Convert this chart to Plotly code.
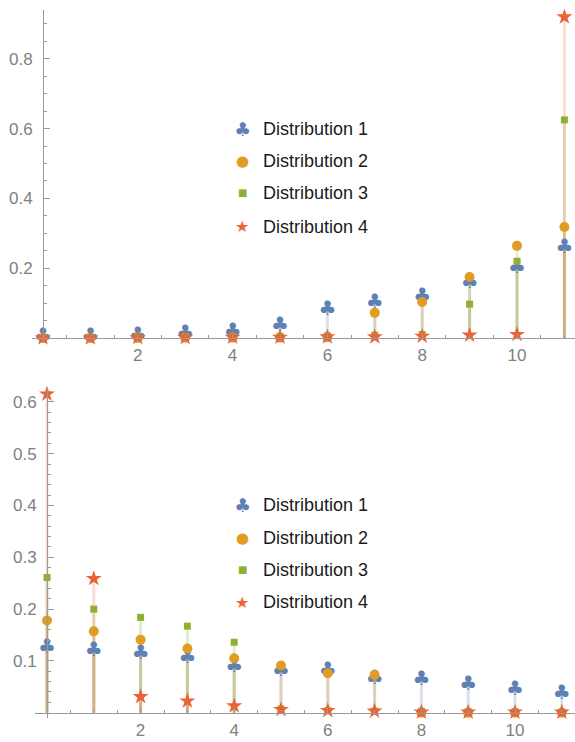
import plotly.graph_objects as go

x_vals = list(range(12))
names = ["Distribution 1", "Distribution 2", "Distribution 3", "Distribution 4"]
colors = ["#5E81B5", "#E19C24", "#8FB032", "#EB6235"]
rgba = ["rgba(94,129,181,0.24)", "rgba(225,156,36,0.24)", "rgba(143,176,50,0.24)", "rgba(235,98,53,0.22)"]

# top panel values
top_d1 = [0.003, 0.004, 0.005, 0.012, 0.017, 0.034, 0.080, 0.100, 0.118, 0.157, 0.200, 0.258]
top_d2 = [0.000, 0.000, 0.000, 0.001, 0.001, 0.001, 0.002, 0.072, 0.103, 0.175, 0.264, 0.318]
top_d3 = [0.001, 0.001, 0.002, 0.003, 0.004, 0.005, 0.006, 0.008, 0.010, 0.097, 0.220, 0.625]
top_d4 = [0.000, 0.000, 0.001, 0.001, 0.002, 0.002, 0.003, 0.003, 0.005, 0.008, 0.010, 0.920]

# bottom panel values
bot_d1 = [0.124, 0.119, 0.113, 0.105, 0.089, 0.081, 0.080, 0.066, 0.063, 0.053, 0.044, 0.036]
bot_d2 = [0.178, 0.157, 0.141, 0.124, 0.105, 0.091, 0.076, 0.073, 0.000, 0.000, 0.000, 0.000]
bot_d3 = [0.261, 0.200, 0.184, 0.167, 0.136, 0.007, 0.004, 0.003, 0.003, 0.002, 0.002, 0.001]
bot_d4 = [0.615, 0.259, 0.031, 0.0226, 0.013, 0.006, 0.004, 0.003, 0.001, 0.001, 0.001, 0.001]

top_series = [top_d1, top_d2, top_d3, top_d4]
bot_series = [bot_d1, bot_d2, bot_d3, bot_d4]

x_ticks = [2, 4, 6, 8, 10]
top_y_ticks = [0.2, 0.4, 0.6, 0.8]
bot_y_ticks = [0.1, 0.2, 0.3, 0.4, 0.5, 0.6]

fig = go.Figure()

def add_panel(series, xa, ya):
    # stems
    for i, vals in enumerate(series):
        sx, sy = [], []
        for xv, v in zip(x_vals, vals):
            sx += [xv, xv, None]
            sy += [0, v, None]
        fig.add_trace(go.Scatter(x=sx, y=sy, mode="lines", line=dict(color=rgba[i], width=3),
                                 xaxis=xa, yaxis=ya, showlegend=False, hoverinfo="skip",
                                 cliponaxis=False))
    # points
    for i, vals in enumerate(series):
        if i == 0:
            fig.add_trace(go.Scatter(x=x_vals, y=vals, mode="text", text=["♣"] * len(vals),
                                     textposition="middle center", cliponaxis=False,
                                     textfont=dict(color=colors[0], size=20, family="DejaVu Sans"),
                                     xaxis=xa, yaxis=ya, showlegend=False, name=names[0]))
        else:
            sym = ["circle", "square", "star"][i - 1]
            size = [10, 7, 12][i - 1]
            fig.add_trace(go.Scatter(x=x_vals, y=vals, mode="markers", cliponaxis=False,
                                     marker=dict(symbol=sym, size=size, color=colors[i], line=dict(width=0)),
                                     xaxis=xa, yaxis=ya, showlegend=False, name=names[i]))

add_panel(top_series, "x", "y")
add_panel(bot_series, "x2", "y2")

W, H = 575, 742
axis_col = "#9a9a9a"
tick_font = dict(family="Liberation Sans, Arial", size=17, color="#808080")

def xaxis_cfg(left_px, x0px, ppu, axis_ypx):
    return dict(domain=[left_px / W, 1], range=[(left_px - x0px) / ppu, (W - x0px) / ppu],
                anchor="free", position=1 - axis_ypx / H, automargin=False,
                showline=True, linecolor=axis_col, linewidth=1,
                showgrid=False, zeroline=False,
                tickmode="array", tickvals=x_ticks, ticktext=[str(t) for t in x_ticks],
                ticks="inside", ticklen=5, tickcolor=axis_col,
                minor=dict(tickmode="array", tickvals=[k * 0.5 for k in range(1, 23)],
                           ticks="inside", ticklen=3, tickcolor=axis_col, showgrid=False),
                tickfont=tick_font, ticklabelstandoff=2)

def yaxis_cfg(ytop_px, ybot_px, y0px, ppu, axis_xpx, ticks, minor_step, nminor):
    return dict(domain=[1 - ybot_px / H, 1 - ytop_px / H],
                range=[(y0px - ybot_px) / ppu, (y0px - ytop_px) / ppu],
                anchor="free", position=axis_xpx / W, automargin=False,
                showline=True, linecolor=axis_col, linewidth=1,
                showgrid=False, zeroline=False,
                tickmode="array", tickvals=ticks, ticktext=[f"{t:g}" for t in ticks],
                ticks="inside", ticklen=6, tickcolor=axis_col,
                minor=dict(tickmode="array", tickvals=[round(k * minor_step, 4) for k in range(1, nminor)],
                           ticks="inside", ticklen=3, tickcolor=axis_col, showgrid=False),
                tickfont=tick_font, ticklabelstandoff=7)

# top panel: x0 at 43px, 47.4 px/unit; y0 at 338px, 349 px/unit
xt = xaxis_cfg(32, 43, 47.4, 338)
yt = yaxis_cfg(10, 343, 338, 349, 43, top_y_ticks, 0.05, 19)
# bottom panel: x0 at 47px, 46.8 px/unit; y0 at 712.7px, 518 px/unit
xb = xaxis_cfg(35, 47, 46.8, 712.7)
yb = yaxis_cfg(388, 718, 712.7, 518, 47, bot_y_ticks, 0.02, 32)

fig.update_layout(
    template="none",
    width=W, height=H, margin=dict(l=0, r=0, t=0, b=0, autoexpand=False),
    paper_bgcolor="white", plot_bgcolor="white",
    xaxis=xt, yaxis=yt, xaxis2=xb, yaxis2=yb,
    showlegend=False,
)

# custom legends (layout annotations)
leg_font = dict(family="Liberation Sans, Arial", size=18, color="#1a1a1a")
glyphs = [("♣", 19, "DejaVu Sans"), ("●", 15, "DejaVu Sans"), ("■", 10, "DejaVu Sans"), ("★", 16, "DejaVu Sans")]
for rows in ([129, 161, 193, 227], [505, 537.5, 569.5, 602]):
    for i, ypx in enumerate(rows):
        g, gs, gf = glyphs[i]
        fig.add_annotation(xref="paper", yref="paper", x=242 / W, y=1 - ypx / H, text=g,
                           showarrow=False, xanchor="center", yanchor="middle",
                           font=dict(family=gf, size=gs, color=colors[i]))
        fig.add_annotation(xref="paper", yref="paper", x=261 / W, y=1 - ypx / H, text=names[i],
                           showarrow=False, xanchor="left", yanchor="middle", font=leg_font)

fig.write_html("out.html", config={"displayModeBar": False},
               post_script="document.body.style.margin='0';document.body.style.overflow='hidden';")
